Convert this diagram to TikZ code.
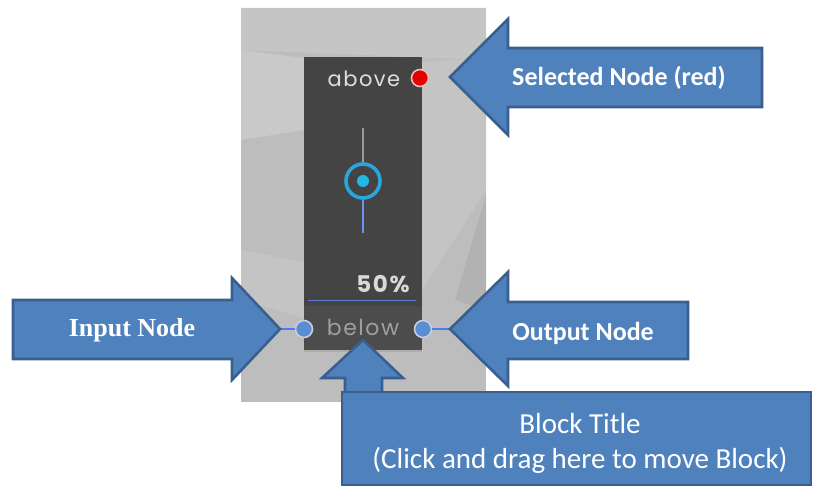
\documentclass[tikz,border=0pt]{standalone}
\usepackage{fontspec}
\setmainfont{Carlito}
\newfontfamily\serifbf{Liberation Serif}
\newfontfamily\gothic[LetterSpace=7]{Poppins}
\usepackage{tikz}
\usetikzlibrary{shadows}
\usetikzlibrary{positioning}
\usetikzlibrary{calc}

\definecolor{callfill}{HTML}{4F81BD}
\definecolor{callline}{HTML}{3A5F8E}
\definecolor{panel}{HTML}{BDBDBD}
\definecolor{blockbody}{HTML}{444444}
\definecolor{blocktitle}{HTML}{4C4C4C}
\definecolor{wire}{HTML}{4A7BF0}
\definecolor{knob}{HTML}{2AA6DC}
\definecolor{portfill}{HTML}{5A8ED2}
\definecolor{portrim}{HTML}{C6CFDB}

\tikzset{
  callout/.style={fill=callfill, draw=callline, line width=2.6pt, line join=miter},
  calltext/.style={text=white, font=\fontsize{26}{30}\selectfont\bfseries},
  port/.style={circle, inner sep=0pt, minimum size=17pt, fill=portfill, draw=portrim, line width=1.6pt},
}

\begin{document}
\begin{tikzpicture}[x=1pt, y=-1pt]
   \useasboundingbox (0,0) rectangle (813,487);

   % grey canvas behind the block
   \fill[panel] (241,8) rectangle (486,402);
   \fill[white!12!panel] (241,8) -- (486,8) -- (486,60) -- (241,50) -- cycle;
   \fill[white!18!panel] (241,50) -- (304,58) -- (304,130) -- (241,140) -- cycle;
   \fill[white!10!panel] (422,62) -- (486,58) -- (486,190) -- (422,290) -- cycle;
   \fill[black!6!panel] (455,300) -- (486,195) -- (486,310) -- cycle;
   \fill[white!10!panel] (241,250) -- (304,262) -- (304,318) -- (241,300) -- cycle;

   % the block itself
   \fill[blockbody, drop shadow={shadow xshift=0pt, shadow yshift=-2pt, opacity=0.25}] (304,57) rectangle (422,350);
   \fill[blocktitle] (304,306) rectangle (422,350);
   \draw[wire!70!gray, line width=1pt] (308,300) -- (416,300);

   % slider
   \draw[gray!80, line width=1.3pt] (363,128) -- (363,163);
   \draw[wire!80!white, line width=1.6pt] (363,199) -- (363,233);
   \node[circle, draw=knob, line width=3.6pt, minimum size=34pt, inner sep=0pt] (knobring) at (363,181) {};
   \node[circle, fill=knob!80!cyan, minimum size=12pt, inner sep=0pt] (knobdot) at (363,181) {};

   % texts in the block
   \node[text=gray!25, font=\gothic\fontsize{21}{24}\selectfont] (above) at (364,79) {above};
   \node[text=gray!30, font=\gothic\bfseries\fontsize{23}{26}\selectfont] (value) at (383,284) {50\%};
   \node[text=gray!75, font=\gothic\fontsize{22}{24}\selectfont] (below) at (363,327) {below};

   % nodes of the block
   \node[circle, inner sep=0pt, minimum size=17pt, fill=red!90!black, draw=red!20!white!80!gray, line width=1.6pt] (seldot) at (420,78) {};
   \node[port] (indot) at (304,329) {};
   \node[port] (outdot) at (423,329) {};

   \coordinate (intip) at (280,329);
   \coordinate (outtip) at (450,329);
   \coordinate (seltip) at (450,77);
   \coordinate (uptip) at (363,340);

   \draw[wire, line width=2.4pt] (intip) -- (indot.west);
   \draw[wire, line width=2.4pt] (outdot.east) -- (outtip);

   % callouts
   \draw[callout] (intip) -- (232,380) -- (232,359) -- (13,359) -- (13,300) -- (232,300) -- (232,278) -- cycle;
   \draw[callout] (seltip) -- (508,19) -- (508,48) -- (762,48) -- (762,107) -- (508,107) -- (508,135) -- cycle;
   \draw[callout] (outtip) -- (508,272) -- (508,302) -- (688,302) -- (688,359) -- (508,359) -- (508,386) -- cycle;
   \draw[callout] (uptip) -- (403,378) -- (382,378) -- (382,396) -- (345,396) -- (345,378) -- (322,378) -- cycle;
   \draw[callout] (342,392) rectangle (811,485);

   \node[calltext, font=\serifbf\fontsize{26}{30}\selectfont\bfseries] (inlabel) at (132,330) {Input Node};
   \node[calltext] (sellabel) at (619,78) {Selected Node (red)};
   \node[calltext] (outlabel) at (583,333) {Output Node};
   \node[text=white, align=center, font=\fontsize{29}{35}\selectfont] (titlelabel) at (580,443) {Block Title\\(Click and drag here to move Block)};

\end{tikzpicture}
\end{document}
